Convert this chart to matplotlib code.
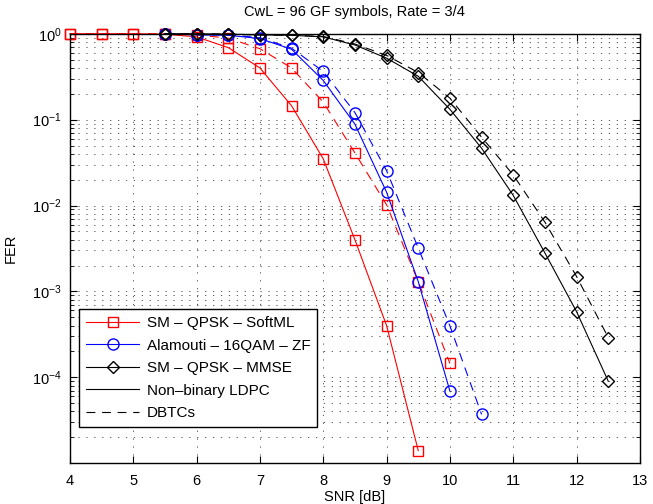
import numpy as np
import matplotlib
matplotlib.use("Agg")
import matplotlib.pyplot as plt
from matplotlib.lines import Line2D
from matplotlib.ticker import LogLocator, FixedLocator

plt.rcParams['font.family'] = ['Liberation Sans', 'DejaVu Sans']
plt.rcParams['mathtext.fontset'] = 'custom'
plt.rcParams['mathtext.rm'] = 'Liberation Sans'
plt.rcParams['mathtext.it'] = 'Liberation Sans:italic'

# SNR grids for each scheme
snr_sm_ml = [4, 4.5, 5, 5.5, 6, 6.5, 7, 7.5, 8, 8.5, 9, 9.5]
snr_sm_ml_dbtc = [4, 4.5, 5, 5.5, 6, 6.5, 7, 7.5, 8, 8.5, 9, 9.5, 10]
snr_ala = [5.5, 6, 6.5, 7, 7.5, 8, 8.5, 9, 9.5, 10]
snr_ala_dbtc = [5.5, 6, 6.5, 7, 7.5, 8, 8.5, 9, 9.5, 10, 10.5]
snr_mmse = [5.5, 6, 6.5, 7, 7.5, 8, 8.5, 9, 9.5, 10, 10.5, 11, 11.5, 12, 12.5]

# FER values
fer_sm_ml_ldpc = [1, 1, 1, 0.99, 0.92, 0.69, 0.40, 0.145, 0.035, 4.0e-3, 4.0e-4, 1.4e-5]
fer_sm_ml_dbtc = [1, 1, 1, 1, 0.97, 0.89, 0.67, 0.40, 0.16, 0.041, 0.0102, 1.3e-3, 1.45e-4]
fer_ala_ldpc = [1, 0.97, 0.96, 0.88, 0.66, 0.286, 0.0886, 0.0143, 1.3e-3, 6.9e-5]
fer_ala_dbtc = [1, 0.98, 0.97, 0.90, 0.68, 0.364, 0.121, 0.0255, 3.2e-3, 3.97e-4, 3.7e-5]
fer_mmse_ldpc = [1, 1, 0.99, 0.97, 0.96, 0.92, 0.74, 0.52, 0.32, 0.132, 0.0465, 0.0131, 2.8e-3, 5.8e-4, 9e-5]
fer_mmse_dbtc = [1, 1, 0.99, 0.97, 0.96, 0.93, 0.76, 0.56, 0.354, 0.178, 0.0625, 0.0227, 6.4e-3, 1.49e-3, 2.9e-4]

labels = ['SM \u2013 QPSK \u2013 SoftML', 'Alamouti \u2013 16QAM \u2013 ZF',
          'SM \u2013 QPSK \u2013 MMSE', 'Non\u2013binary LDPC', 'DBTCs']
yticks = [1e-4, 1e-3, 1e-2, 1e-1, 1]

dash = (0, (8, 6))

fig = plt.figure(figsize=(6.53, 5.04), dpi=100)
ax = fig.add_axes([0.107, 0.081, 0.873, 0.852])

common = dict(lw=0.8, mfc='none', clip_on=False)
ax.semilogy(snr_sm_ml, fer_sm_ml_ldpc, color='red', marker='s', ms=7, ls='-', **common)
ax.semilogy(snr_sm_ml_dbtc, fer_sm_ml_dbtc, color='red', marker='s', ms=7, ls=dash, **common)
ax.semilogy(snr_ala, fer_ala_ldpc, color='blue', marker='o', ms=8, ls='-', **common)
ax.semilogy(snr_ala_dbtc, fer_ala_dbtc, color='blue', marker='o', ms=8, ls=dash, **common)
ax.semilogy(snr_mmse, fer_mmse_ldpc, color='black', marker='D', ms=6.5, ls='-', **common)
ax.semilogy(snr_mmse, fer_mmse_dbtc, color='black', marker='D', ms=6.5, ls=dash, **common)

ax.set_xlim(4, 13)
ax.set_ylim(1e-5, 1)
ax.set_xticks(np.arange(4, 14, 1))
ax.yaxis.set_major_locator(FixedLocator(yticks))
ax.yaxis.set_minor_locator(LogLocator(base=10, subs=np.arange(2, 10), numticks=20))

grid_ls = (0, (1.5, 8))
ax.grid(True, which='major', axis='both', color='0.25', ls=grid_ls, lw=0.6)
ax.grid(True, which='minor', axis='y', color='0.25', ls=grid_ls, lw=0.6)

ax.tick_params(which='both', direction='in', top=True, right=True, labelsize=10.5)
ax.tick_params(which='major', length=5)
ax.tick_params(which='minor', length=3)
ax.tick_params(axis='x', pad=8)
ax.tick_params(axis='y', pad=6)
for s in ax.spines.values():
    s.set_linewidth(1.0)

ax.set_xlabel('SNR [dB]', fontsize=10.5, labelpad=1)
ax.set_ylabel('FER', fontsize=10.5, labelpad=10)
ax.set_title('CwL = 96 GF symbols, Rate = 3/4', fontsize=10.5, pad=13)

handles = [
    Line2D([], [], color='red', marker='s', ms=7, mfc='none', lw=0.8),
    Line2D([], [], color='blue', marker='o', ms=8, mfc='none', lw=0.8),
    Line2D([], [], color='black', marker='D', ms=6.5, mfc='none', lw=0.8),
    Line2D([], [], color='black', lw=0.8),
    Line2D([], [], color='black', lw=0.8, ls=dash),
]
leg = ax.legend(handles, labels, loc='lower left', bbox_to_anchor=(0.016, 0.084),
                borderaxespad=0, fontsize=11, handlelength=3.5, labelspacing=0.56,
                fancybox=False, edgecolor='black', framealpha=1, markerscale=1.0,
                borderpad=0.45, handletextpad=0.5)
leg.get_frame().set_linewidth(1.0)

fig.savefig('out.png', dpi=100)
